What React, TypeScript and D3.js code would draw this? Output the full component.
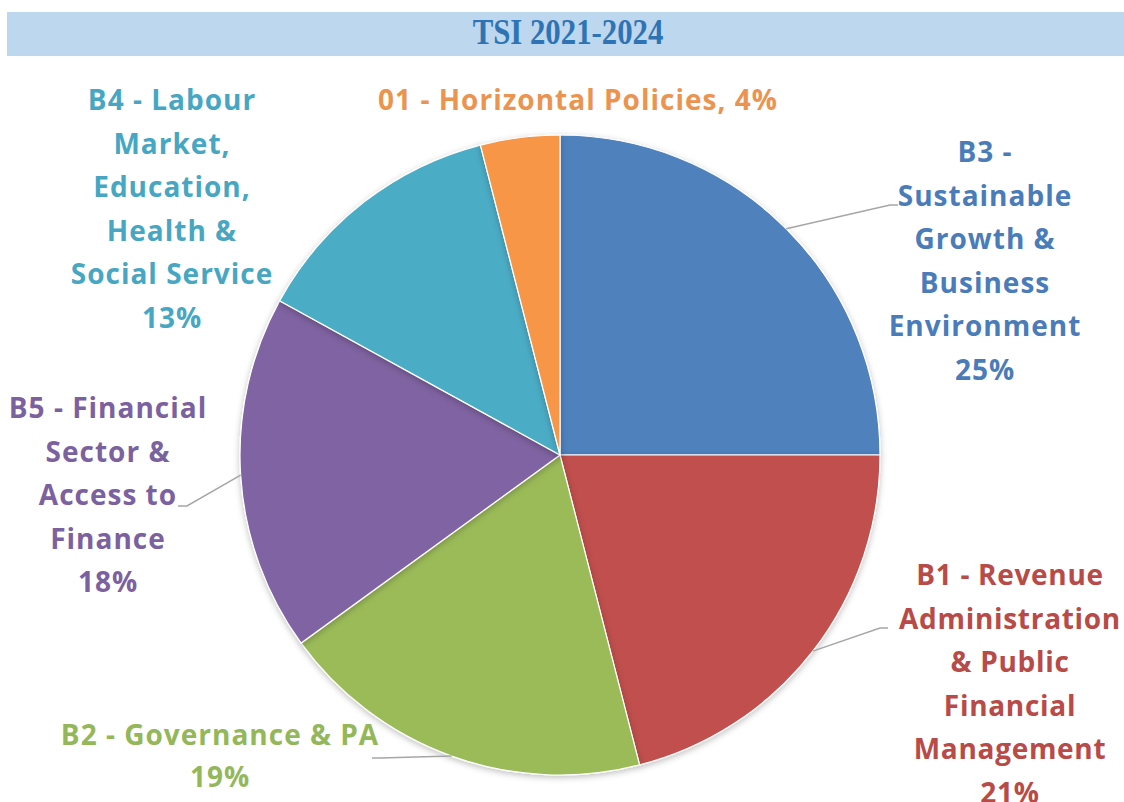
import React from "react";
import * as d3 from "d3";

const title = "TSI 2021-2024";
const categories = ["B3", "B1", "B2", "B5", "B4", "01"];
const values = [25, 21, 19, 18, 13, 4];
const labelTexts = [
  ["B3 -", "Sustainable", "Growth &", "Business", "Environment"],
  ["B1 - Revenue", "Administration", "& Public", "Financial", "Management"],
  ["B2 - Governance & PA"],
  ["B5 - Financial", "Sector &", "Access to", "Finance"],
  ["B4 - Labour", "Market,", "Education,", "Health &", "Social Service"],
  ["01 - Horizontal Policies,"],
];
const sliceColors = ["#4f81bd", "#c0504d", "#9bbb59", "#8064a2", "#4bacc6", "#f79646"];
const textColors = ["#4a7cb9", "#b84a48", "#93b759", "#7b61a0", "#47a7c3", "#eb9450"];

// layout
const W = 1124, H = 802;
const cx = 560, cy = 455, R = 320;
const lineH = 43.5;
const labelLayout = [
  { x: 985, y: 152, inline: false, leader: [[890, 205], [898, 205]] },
  { x: 1010, y: 575, inline: false, leader: [[880, 628], [888, 628]] },
  { x: 220, y: 735, inline: false, leader: [[380, 758], [372, 758]] },
  { x: 108, y: 408, inline: false, leader: [[187, 506], [178, 506]] },
  { x: 172, y: 100, inline: false, leader: null },
  { x: 578, y: 100, inline: true, leader: null },
];

export default function App() {
  const pie = d3.pie<number>().sort(null).value((d) => d).startAngle(0).endAngle(2 * Math.PI);
  const arcs = pie(values);
  const arc = d3.arc<d3.PieArcDatum<number>>().innerRadius(0).outerRadius(R);
  const font = "'Open Sans', 'Noto Sans', sans-serif";

  return (
    <svg width={W} height={H} style={{ position: "absolute", left: 0, top: 0, background: "#fff" }}>
      <defs>
        <filter id="sh" x="-10%" y="-10%" width="120%" height="120%">
          <feDropShadow dx="0" dy="2" stdDeviation="3" floodColor="#000" floodOpacity="0.25" />
        </filter>
      </defs>
      <rect x={7} y={12} width={W - 7} height={44} fill="#bdd7ee" />
      <text transform="translate(568,44) scale(0.88,1)" textAnchor="middle" fontFamily="'Liberation Serif', 'Times New Roman', serif" fontWeight="bold" fontSize={35} fill="#2e74b5">
        {title}
      </text>
      <g transform={`translate(${cx},${cy})`}>
        {arcs.map((a, i) => (
          <path key={categories[i]} d={arc(a) || ""} fill={sliceColors[i]} stroke="#fff" strokeWidth={1.2} filter="url(#sh)" />
        ))}
      </g>
      {arcs.map((a, i) => {
        const L = labelLayout[i];
        if (!L.leader) return null;
        const mid = (a.startAngle + a.endAngle) / 2;
        const sx = cx + R * Math.sin(mid);
        const sy = cy - R * Math.cos(mid);
        const pts = [[sx, sy], ...L.leader];
        return (
          <polyline key={"l" + i} points={pts.map((p) => p.join(",")).join(" ")} fill="none" stroke="#a6a6a6" strokeWidth={1.5} />
        );
      })}
      {arcs.map((a, i) => {
        const L = labelLayout[i];
        const pct = `${values[i]}%`;
        const lines = L.inline ? [`${labelTexts[i][0]} ${pct}`] : [...labelTexts[i], pct];
        const step = i === 2 ? 42 : lineH;
        return (
          <text key={"t" + i} textAnchor="middle" fontFamily={font} fontWeight="bold" fontSize={28} letterSpacing={i === 1 ? 0.7 : 1} fill={textColors[i]}>
            {lines.map((ln, j) => (
              <tspan key={j} x={L.x} y={L.y + j * step} dy="0.36em">
                {ln}
              </tspan>
            ))}
          </text>
        );
      })}
    </svg>
  );
}
